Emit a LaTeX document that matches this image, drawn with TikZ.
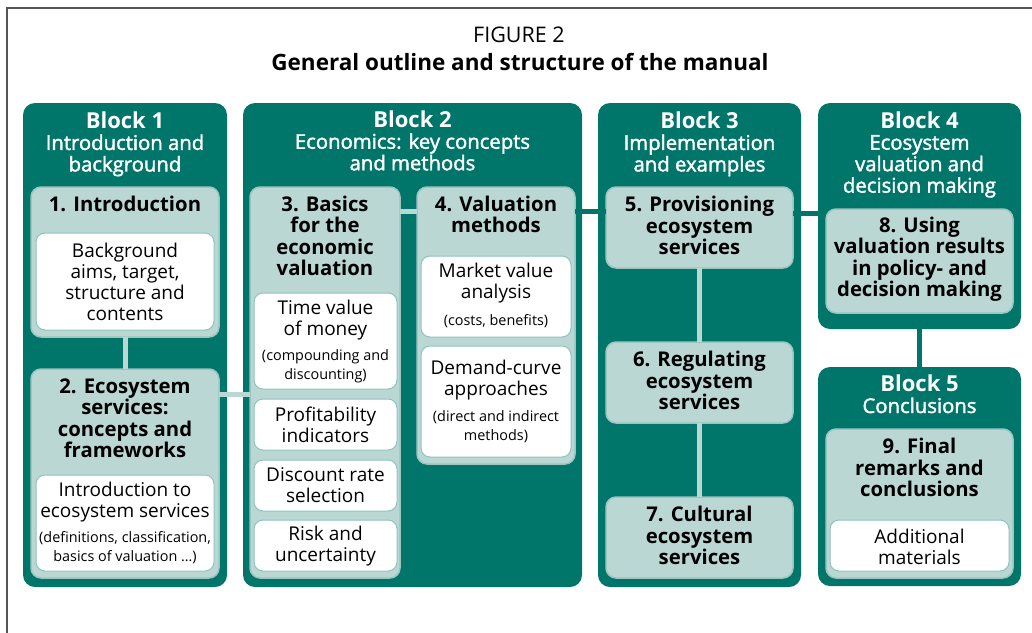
\documentclass[tikz,border=0pt]{standalone}
\usepackage{fontspec}
\setmainfont{Open Sans}
\newfontface\headface{Open Sans}[FakeBold=1.8]
\usetikzlibrary{calc}

\definecolor{blockteal}{HTML}{00756A}
\definecolor{paleteal}{HTML}{BAD7D4}
\definecolor{paleedge}{HTML}{9CC5C1}
\definecolor{whiteedge}{HTML}{8EC3BE}
\definecolor{framegray}{HTML}{555555}

\newcommand{\blockname}[1]{{\fontsize{22}{21.5}\normalfont\bfseries #1}}

\begin{document}
\begin{tikzpicture}[x=1pt, y=-1pt]

    \tikzset{block/.style={%
      fill=blockteal,%
      rounded corners=12pt,%
      anchor=north west,%
      inner sep=0pt,%
      outer sep=0pt}%
    };

    \tikzset{sect/.style={block, fill=paleteal, draw=paleedge, line width=1.5pt, rounded corners=10pt}};
    \tikzset{leaf/.style={block, fill=white, draw=whiteedge, line width=1pt, rounded corners=9pt}};

    \tikzset{headtext/.style={text=white, align=center, inner sep=0pt, font=\fontsize{20.3}{21.5}\headface}};
    \tikzset{secttext/.style={align=center, inner sep=0pt, font=\fontsize{20.3}{21.5}\selectfont\bfseries}};
    \tikzset{leaftext/.style={align=center, inner sep=0pt, font=\fontsize{19}{21}\selectfont}};
    \tikzset{smalltext/.style={align=center, inner sep=0pt, font=\fontsize{14.4}{19}\selectfont}};

    \tikzset{link/.style={draw=paleteal, line width=5pt}};
    \tikzset{darklink/.style={link, draw=blockteal}};

    \useasboundingbox (0,0) rectangle (1032,632);
    \draw[framegray, line width=1.5pt] (7,640) -- (7,8) -- (1040,8);

    %%%%%%%%%
    % title %
    %%%%%%%%%
    \node[inner sep=0pt, font=\fontsize{21.5}{24}\selectfont] (fig) at (519,35) {FIGURE 2};
    \node[inner sep=0pt, font=\fontsize{22.5}{26}\selectfont\bfseries] (title) at (520,62) {General outline and structure of the manual};

    %%%%%%%%%%
    % blocks %
    %%%%%%%%%%
    \node[block, minimum width=204pt, minimum height=484pt] (b1) at (23,103) {};
    \node[block, minimum width=339pt, minimum height=484pt] (b2) at (243,103) {};
    \node[block, minimum width=203pt, minimum height=484pt] (b3) at (598,103) {};
    \node[block, minimum width=203pt, minimum height=226pt] (b4) at (818,103) {};
    \node[block, minimum width=203pt, minimum height=219pt] (b5) at (818,367) {};

    \node[headtext] (b1t) at (125,144) {\blockname{Block 1}\\Introduction and\\background};
    \node[headtext] (b2t) at (412.5,140.5) {\blockname{Block 2}\\Economics: key concepts\\and methods};
    \node[headtext] (b3t) at (699.5,144) {\blockname{Block 3}\\Implementation\\and examples};
    \node[headtext] (b4t) at (919.5,154.5) {\blockname{Block 4}\\Ecosystem\\valuation and\\decision making};
    \node[headtext] (b5t) at (919.5,394) {\blockname{Block 5}\\Conclusions};

    %%%%%%%%%%%%
    % chapters %
    %%%%%%%%%%%%
    \node[sect, minimum width=188pt, minimum height=150pt] (s1) at (31,187) {};
    \node[sect, minimum width=188pt, minimum height=209pt] (s2) at (31,369) {};
    \node[sect, minimum width=150pt, minimum height=391pt] (s3) at (250,187) {};
    \node[sect, minimum width=158pt, minimum height=277pt] (s4) at (417,187) {};
    \node[sect, minimum width=187pt, minimum height=81pt] (s5) at (606,187) {};
    \node[sect, minimum width=187pt, minimum height=81pt] (s6) at (606,342) {};
    \node[sect, minimum width=187pt, minimum height=81pt] (s7) at (606,497) {};
    \node[sect, minimum width=187pt, minimum height=104pt] (s8) at (826,209) {};
    \node[sect, minimum width=187pt, minimum height=149pt] (s9) at (826,429) {};

    \node[secttext] (s1t) at (125,204) {1. Introduction};
    \node[secttext] (s2t) at (125,418) {2. Ecosystem\\services:\\concepts and\\frameworks};
    \node[secttext] (s3t) at (325,236) {3. Basics\\for the\\economic\\valuation};
    \node[secttext] (s4t) at (496,214.5) {4. Valuation\\methods};
    \node[secttext] (s5t) at (699.5,225.5) {5. Provisioning\\ecosystem\\services};
    \node[secttext] (s6t) at (699.5,380.5) {6. Regulating\\ecosystem\\services};
    \node[secttext] (s7t) at (699.5,535.5) {7. Cultural\\ecosystem\\services};
    \node[secttext] (s8t) at (919.5,259) {8. Using\\valuation results\\in policy- and\\decision making};
    \node[secttext] (s9t) at (919.5,467.5) {9. Final\\remarks and\\conclusions};

    %%%%%%%%%%%%
    % contents %
    %%%%%%%%%%%%
    \node[leaf, minimum width=178pt, minimum height=97pt] (l1) at (36,233) {};
    \node[leaf, minimum width=178pt, minimum height=96pt] (l2) at (36,475) {};
    \node[leaf, minimum width=143pt, minimum height=96pt] (l3a) at (254,293) {};
    \node[leaf, minimum width=143pt, minimum height=51pt] (l3b) at (254,399) {};
    \node[leaf, minimum width=143pt, minimum height=51pt] (l3c) at (254,460) {};
    \node[leaf, minimum width=143pt, minimum height=51pt] (l3d) at (254,520) {};
    \node[leaf, minimum width=150pt, minimum height=81pt] (l4a) at (421,256) {};
    \node[leaf, minimum width=150pt, minimum height=111pt] (l4b) at (421,346) {};
    \node[leaf, minimum width=179pt, minimum height=51pt] (l9) at (830,520) {};

    \node[leaftext] (l1t) at (125,281.5) {Background\\aims, target,\\structure and\\contents};
    \node[leaftext] (l2t) at (125,502) {Introduction to\\ecosystem services};
    \node[smalltext] (l2s) at (125,547.5) {(definitions, classification,\\basics of valuation …)};
    \node[leaftext] (l3at) at (325.5,320.5) {Time value\\of money};
    \node[smalltext] (l3as) at (325.5,366.5) {(compounding and\\discounting)};
    \node[leaftext] (l3bt) at (325.5,424.5) {Profitability\\indicators};
    \node[leaftext] (l3ct) at (325.5,485.5) {Discount rate\\selection};
    \node[leaftext] (l3dt) at (325.5,546.5) {Risk and\\uncertainty};
    \node[leaftext] (l4at) at (496,283.5) {Market value\\analysis};
    \node[smalltext] (l4as) at (496,321) {(costs, benefits)};
    \node[leaftext] (l4bt) at (496,380.5) {Demand-curve\\approaches};
    \node[smalltext] (l4bs) at (496,427) {(direct and indirect\\methods)};
    \node[leaftext] (l9t) at (919.5,546.5) {Additional\\materials};

    %%%%%%%%%
    % links %
    %%%%%%%%%
    \draw[link] (s1.south) -- (s2.north);
    \draw[link] ([yshift=-12pt]s3.west) -- ([yshift=-12pt]s3.west -| s2.east);
    \draw[link] ([yshift=-24pt]s3.north east) -- ([yshift=-24pt]s3.north east -| s4.west);
    \draw[darklink] ([yshift=-24pt]s4.north east) -- ([yshift=-24pt]s4.north east -| s5.west);
    \draw[darklink] ([yshift=-26pt]s5.north east) -- ([yshift=-26pt]s5.north east -| s8.west);
    \draw[link] (s5.south) -- (s6.north);
    \draw[link] (s6.south) -- (s7.north);
    \draw[darklink] (b4.south) -- (b5.north);

  \end{tikzpicture}
\end{document}
